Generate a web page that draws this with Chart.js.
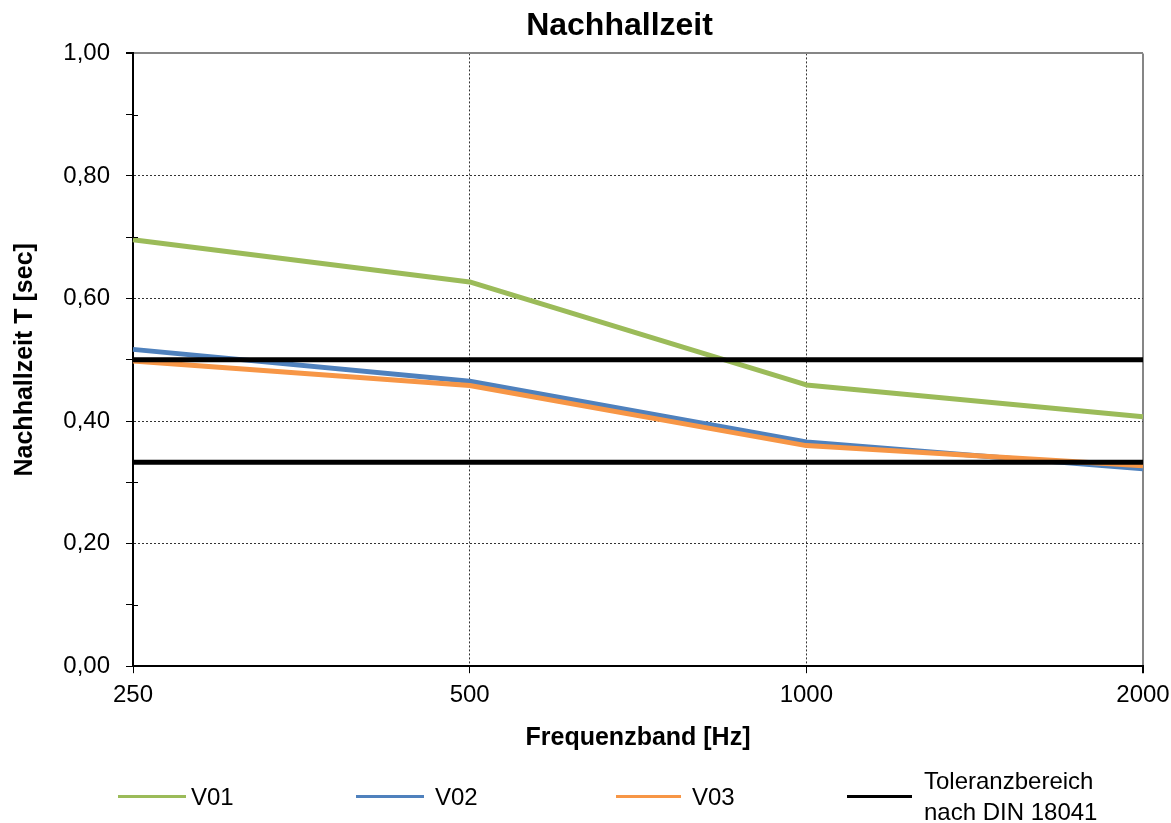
<!DOCTYPE html>
<html>
<head>
<meta charset="utf-8">
<script src="https://cdn.jsdelivr.net/npm/chart.js@4/dist/chart.umd.min.js"></script>
<style>
  html, body { margin: 0; padding: 0; background: #fff; overflow: hidden; }
  #wrap { position: relative; width: 1171px; height: 823px; }
  #c { position: absolute; left: 0; top: 0; }
  .lg-line { position: absolute; height: 3px; }
  .lg-text { position: absolute; font-family: 'Liberation Sans', Arial, sans-serif; font-size: 24px; line-height: 31px; color: #000; white-space: pre-line; }
</style>
</head>
<body>
<div id="wrap">
  <canvas id="c" width="1171" height="823"></canvas>
  <div id="legend"></div>
</div>
<script>
// ---- data ----
const categories = ['250', '500', '1000', '2000'];
const v01 = [0.696, 0.627, 0.459, 0.407];
const v02 = [0.517, 0.465, 0.366, 0.322];
const v03 = [0.498, 0.458, 0.360, 0.327];
const tolUpper = [0.500, 0.500, 0.500, 0.500];
const tolLower = [0.333, 0.333, 0.333, 0.333];
const yTickLabels = ['0,00', '0,20', '0,40', '0,60', '0,80', '1,00'];
const seriesNames = ['V01', 'V02', 'V03', 'Toleranzbereich\nnach DIN 18041'];

const colors = ['#9BBB59', '#4F81BD', '#F79646', '#000000'];
const FONT = "'Liberation Sans', Arial, sans-serif";

function lineDs(label, data, color, order) {
  return {
    label: label, data: data, borderColor: color, backgroundColor: color,
    borderWidth: 5, pointRadius: 0, pointHoverRadius: 0, tension: 0,
    fill: false, borderJoinStyle: 'round', order: order
  };
}

const minorTickPlugin = {
  id: 'minorTicks',
  afterDatasetsDraw(chart) {
    const y = chart.scales.y;
    const ctx = chart.ctx;
    ctx.save();
    ctx.strokeStyle = '#000';
    ctx.lineWidth = 1;
    y.ticks.forEach((t, i) => {
      if (i % 2 === 1) {
        const py = Math.round(y.getPixelForValue(t.value)) + 0.5;
        ctx.beginPath();
        ctx.moveTo(chart.chartArea.left, py);
        ctx.lineTo(chart.chartArea.left + 5, py);
        ctx.stroke();
      }
    });
    ctx.restore();
  }
};

const titleShiftPlugin = {
  id: 'titleShift',
  afterLayout(chart) {
    if (chart.titleBlock) {
      chart.titleBlock.left += 34;
      chart.titleBlock.right += 34;
    }
  }
};

new Chart(document.getElementById('c'), {
  type: 'line',
  data: {
    labels: categories,
    datasets: [
      lineDs(seriesNames[0], v01, colors[0], 5),
      lineDs(seriesNames[1], v02, colors[1], 4),
      lineDs(seriesNames[2], v03, colors[2], 3),
      lineDs(seriesNames[3], tolUpper, colors[3], 2),
      lineDs(seriesNames[3], tolLower, colors[3], 1)
    ]
  },
  options: {
    responsive: false,
    animation: false,
    events: [],
    layout: { padding: { left: 0, right: 0, top: 0, bottom: 70 } },
    plugins: {
      legend: { display: false },
      tooltip: { enabled: false },
      title: {
        display: true,
        text: 'Nachhallzeit',
        color: '#000',
        font: { family: FONT, size: 32, weight: 'bold' },
        padding: { top: 7, bottom: 8 }
      }
    },
    scales: {
      x: {
        type: 'category',
        offset: false,
        afterFit: (s) => { s.paddingRight = 28; },
        grid: {
          color: (c) => (c.index === 0 ? 'rgba(0,0,0,0)' : (c.index === categories.length - 1 ? '#868686' : '#333')),
          lineWidth: (c) => (c.index === categories.length - 1 ? 2 : 1),
          tickColor: '#000',
          tickLength: 7,
          drawTicks: true
        },
        border: {
          display: true, color: '#000', width: 2,
          dash: (c) => (c.index === categories.length - 1 ? [] : [2, 2])
        },
        ticks: {
          color: '#000', font: { family: FONT, size: 24 }, padding: 8,
          maxRotation: 0, autoSkip: false
        },
        title: {
          display: true, text: 'Frequenzband [Hz]', color: '#000',
          font: { family: FONT, size: 25, weight: 'bold' },
          padding: { top: 5, bottom: 0 }
        }
      },
      y: {
        min: 0, max: 1,
        afterFit: (s) => { s.width = 133; },
        grid: {
          color: (c) => {
            const k = Math.round(c.tick.value * 10);
            if (k === 10) return '#868686';
            if (k === 0 || k % 2 === 1) return 'rgba(0,0,0,0)';
            return '#333';
          },
          lineWidth: (c) => (Math.round(c.tick.value * 10) === 10 ? 2 : 1),
          tickColor: '#000',
          tickLength: 7
        },
        border: {
          display: true, color: '#000', width: 2,
          dash: (c) => (c.tick && Math.round(c.tick.value * 10) === 10 ? [] : [2, 2])
        },
        ticks: {
          stepSize: 0.1,
          color: '#000', font: { family: FONT, size: 24 }, padding: 16,
          callback: (v, i) => (i % 2 === 0 ? yTickLabels[i / 2] : '')
        },
        title: {
          display: true, text: 'Nachhallzeit T [sec]', color: '#000',
          font: { family: FONT, size: 25, weight: 'bold' },
          padding: { top: 10, bottom: 0 }
        }
      }
    }
  },
  plugins: [minorTickPlugin, titleShiftPlugin]
});

// ---- HTML legend ----
const legendLayout = [
  { lineLeft: 118, lineW: 68, textLeft: 191 },
  { lineLeft: 356, lineW: 68, textLeft: 435 },
  { lineLeft: 616, lineW: 65, textLeft: 692 },
  { lineLeft: 847, lineW: 65, textLeft: 924 }
];
const lg = document.getElementById('legend');
const legendCenterY = 796;
seriesNames.forEach((name, i) => {
  const L = legendLayout[i];
  const line = document.createElement('div');
  line.className = 'lg-line';
  line.style.left = L.lineLeft + 'px';
  line.style.width = L.lineW + 'px';
  line.style.top = (legendCenterY - 1.5) + 'px';
  line.style.background = colors[i];
  lg.appendChild(line);
  const txt = document.createElement('div');
  txt.className = 'lg-text';
  txt.textContent = name;
  const nLines = name.split('\n').length;
  txt.style.left = L.textLeft + 'px';
  txt.style.top = (legendCenterY - nLines * 31 / 2) + 'px';
  lg.appendChild(txt);
});
</script>
</body>
</html>
